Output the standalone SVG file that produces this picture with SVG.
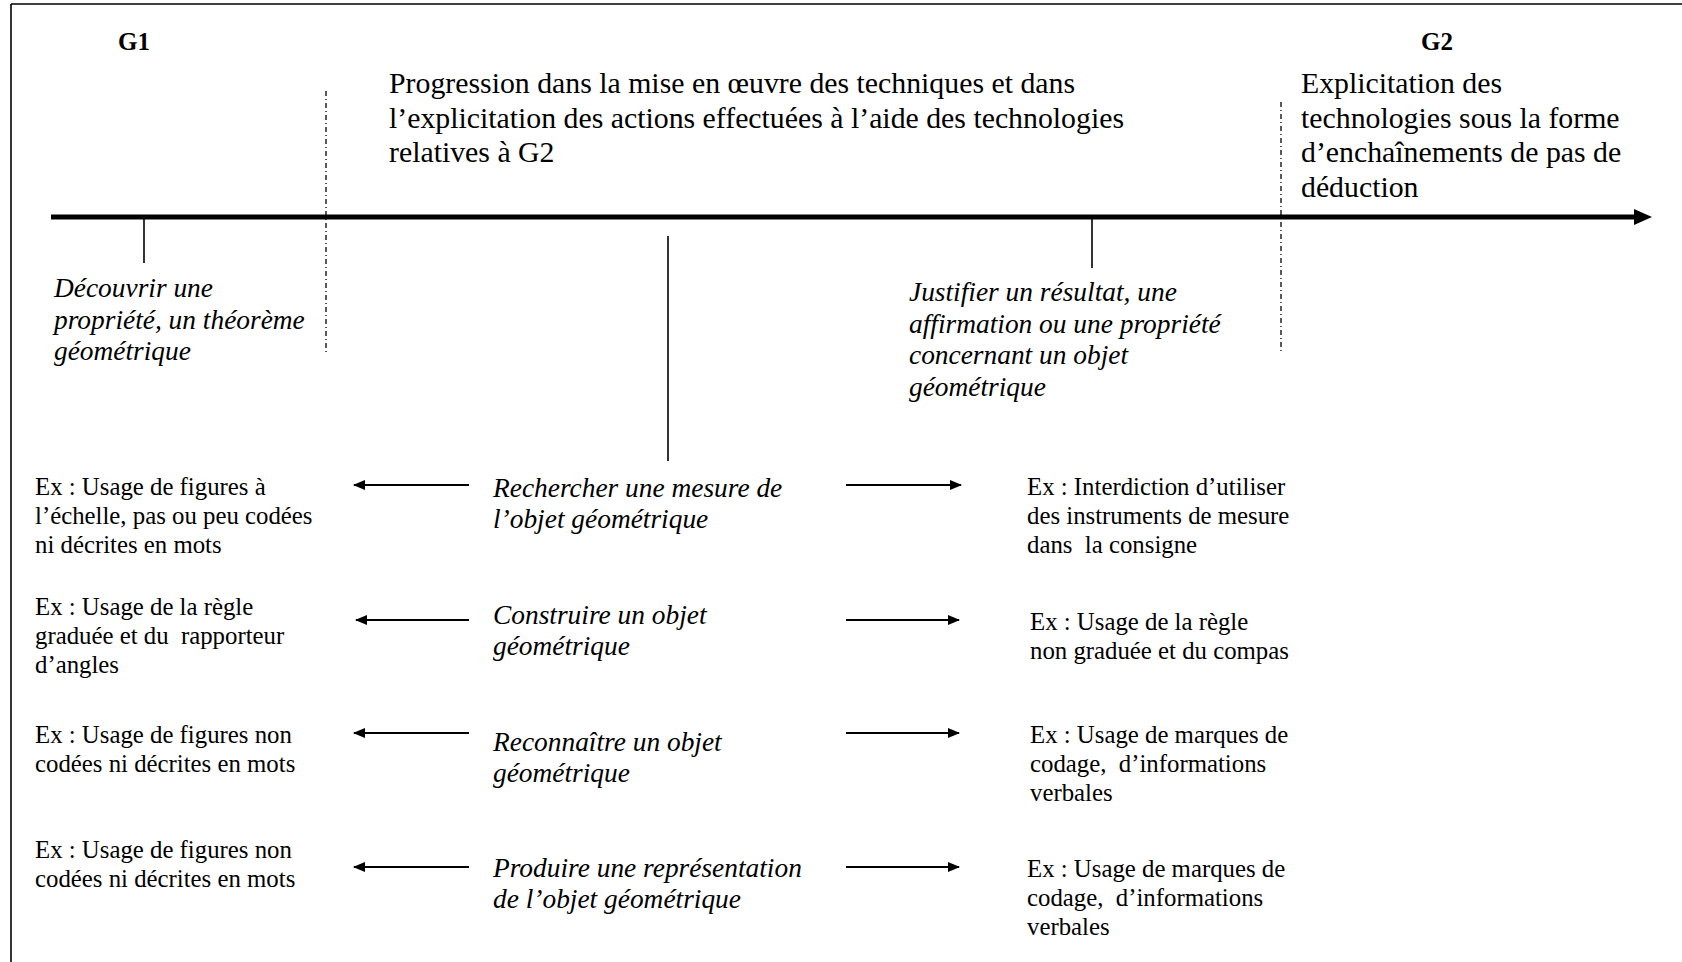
<svg xmlns="http://www.w3.org/2000/svg" width="1682" height="962" viewBox="0 0 1682 962">
<style>
text{font-family:"Liberation Serif","Times New Roman",serif;fill:#000;white-space:pre}
.hd{font-size:29.8px}
.it{font-size:27.4px;font-style:italic}
.ex{font-size:24.8px}
.g{font-size:25px;font-weight:bold}
.thin{stroke:#000;stroke-width:1.6;fill:none}
.dash{stroke:#000;stroke-width:1.3;fill:none;stroke-dasharray:5 3 1 3}
.arr{stroke:#000;stroke-width:2;fill:none}
</style>
<defs>
<marker id="ah" viewBox="0 0 12 10" refX="11" refY="5" markerWidth="12" markerHeight="10" markerUnits="userSpaceOnUse" orient="auto">
<path d="M0,0 L12,5 L0,10 Z" fill="#000"/>
</marker>
</defs>
<rect width="1682" height="962" fill="#fff"/>
<g id="frame">
<line x1="11" y1="4" x2="1682" y2="4" class="thin"/>
<line x1="11" y1="4" x2="11" y2="962" class="thin"/>
</g>
<g id="axis">
<line x1="51" y1="217" x2="1638" y2="217" stroke="#000" stroke-width="5"/>
<path d="M1634,209 L1652,217 L1634,225 Z" fill="#000"/>
</g>
<g id="dividers">
<line x1="326" y1="91" x2="326" y2="352" class="dash"/>
<line x1="1281" y1="102" x2="1281" y2="354" class="dash"/>
</g>
<g id="g1">
<text class="g" x="118" y="50">G1</text>
</g>
<g id="g2">
<text class="g" x="1421" y="50">G2</text>
</g>
<g id="progression">
<text class="hd" x="389" y="93">Progression dans la mise en œuvre des techniques et dans</text>
<text class="hd" x="389" y="127.5">l’explicitation des actions effectuées à l’aide des technologies</text>
<text class="hd" x="389" y="162">relatives à G2</text>
</g>
<g id="explicitation">
<text class="hd" x="1301" y="93">Explicitation des</text>
<text class="hd" x="1301" y="127.5">technologies sous la forme</text>
<text class="hd" x="1301" y="162">d’enchaînements de pas de</text>
<text class="hd" x="1301" y="196.5">déduction</text>
</g>
<g id="decouvrir">
<line x1="144" y1="217" x2="144" y2="263" class="thin"/>
<text class="it" x="54" y="297">Découvrir une</text>
<text class="it" x="54" y="329">propriété, un théorème</text>
<text class="it" x="54" y="360">géométrique</text>
</g>
<g id="justifier">
<line x1="1092" y1="217" x2="1092" y2="268" class="thin"/>
<text class="it" x="909" y="301">Justifier un résultat, une</text>
<text class="it" x="909" y="333">affirmation ou une propriété</text>
<text class="it" x="909" y="364">concernant un objet</text>
<text class="it" x="909" y="396">géométrique</text>
</g>
<g id="center-line">
<line x1="668" y1="236" x2="668" y2="461" class="thin"/>
</g>
<g id="rechercher">
<text class="it" x="493" y="497">Rechercher une mesure de</text>
<text class="it" x="493" y="528">l’objet géométrique</text>
</g>
<g id="construire">
<text class="it" x="493" y="624">Construire un objet</text>
<text class="it" x="493" y="655">géométrique</text>
</g>
<g id="reconnaitre">
<text class="it" x="493" y="751">Reconnaître un objet</text>
<text class="it" x="493" y="782">géométrique</text>
</g>
<g id="produire">
<text class="it" x="493" y="877">Produire une représentation</text>
<text class="it" x="493" y="908">de l’objet géométrique</text>
</g>
<g id="ex-left-1">
<text class="ex" x="35" y="495">Ex : Usage de figures à</text>
<text class="ex" x="35" y="524">l’échelle, pas ou peu codées</text>
<text class="ex" x="35" y="553">ni décrites en mots</text>
</g>
<g id="ex-left-2">
<text class="ex" x="35" y="615">Ex : Usage de la règle</text>
<text class="ex" x="35" y="644">graduée et du  rapporteur</text>
<text class="ex" x="35" y="673">d’angles</text>
</g>
<g id="ex-left-3">
<text class="ex" x="35" y="743">Ex : Usage de figures non</text>
<text class="ex" x="35" y="772">codées ni décrites en mots</text>
</g>
<g id="ex-left-4">
<text class="ex" x="35" y="858">Ex : Usage de figures non</text>
<text class="ex" x="35" y="887">codées ni décrites en mots</text>
</g>
<g id="ex-right-1">
<text class="ex" x="1027" y="495">Ex : Interdiction d’utiliser</text>
<text class="ex" x="1027" y="524">des instruments de mesure</text>
<text class="ex" x="1027" y="553">dans  la consigne</text>
</g>
<g id="ex-right-2">
<text class="ex" x="1030" y="630">Ex : Usage de la règle</text>
<text class="ex" x="1030" y="659">non graduée et du compas</text>
</g>
<g id="ex-right-3">
<text class="ex" x="1030" y="743">Ex : Usage de marques de</text>
<text class="ex" x="1030" y="772">codage,  d’informations</text>
<text class="ex" x="1030" y="801">verbales</text>
</g>
<g id="ex-right-4">
<text class="ex" x="1027" y="877">Ex : Usage de marques de</text>
<text class="ex" x="1027" y="906">codage,  d’informations</text>
<text class="ex" x="1027" y="935">verbales</text>
</g>
<g id="connectors">
<line x1="469" y1="485" x2="354" y2="485" class="arr" marker-end="url(#ah)"/>
<line x1="469" y1="620" x2="356" y2="620" class="arr" marker-end="url(#ah)"/>
<line x1="469" y1="733" x2="354" y2="733" class="arr" marker-end="url(#ah)"/>
<line x1="469" y1="867" x2="354" y2="867" class="arr" marker-end="url(#ah)"/>
<line x1="846" y1="485" x2="961" y2="485" class="arr" marker-end="url(#ah)"/>
<line x1="846" y1="620" x2="959" y2="620" class="arr" marker-end="url(#ah)"/>
<line x1="846" y1="733" x2="959" y2="733" class="arr" marker-end="url(#ah)"/>
<line x1="846" y1="867" x2="959" y2="867" class="arr" marker-end="url(#ah)"/>
</g>
</svg>
